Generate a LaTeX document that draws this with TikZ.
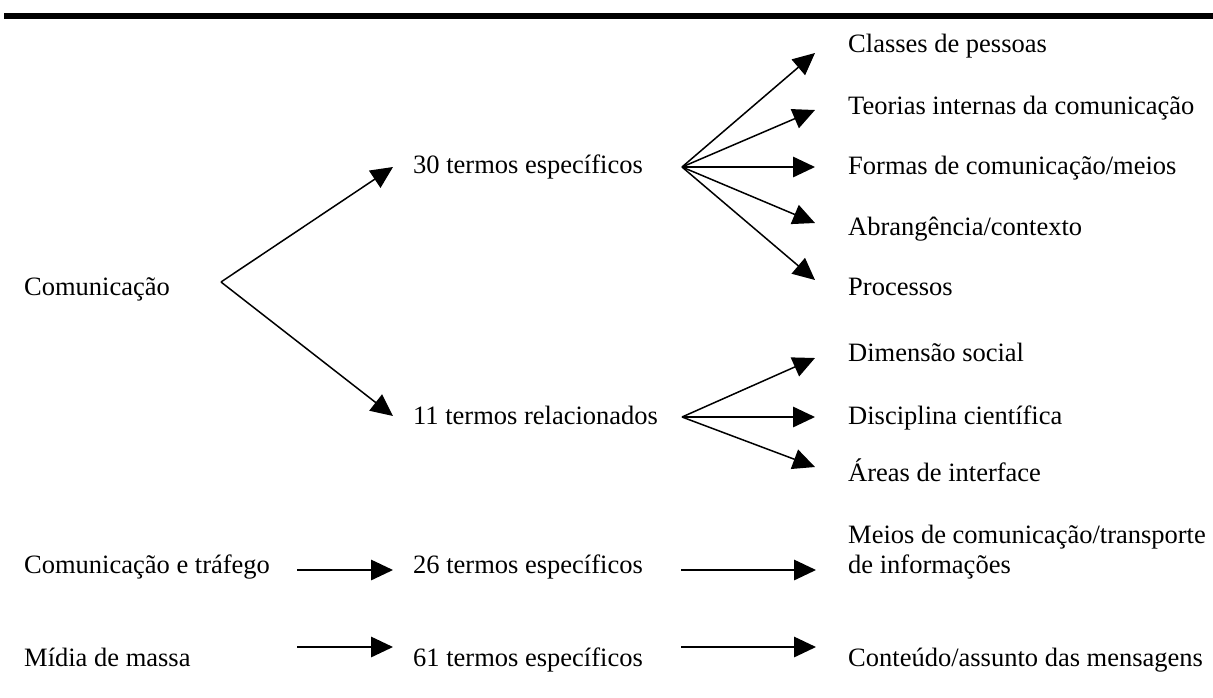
\documentclass[tikz,border=0pt]{standalone}
\usepackage{fontspec}
\setmainfont{Liberation Serif}
\usetikzlibrary{arrows.meta}
\begin{document}
\begin{tikzpicture}[x=1pt,y=-1pt,
  lbl/.style={anchor=base west, inner sep=0pt, font=\fontsize{26.5}{30.5}\selectfont},
  arr/.style={line width=1.5pt, -{Triangle[length=22pt,width=20.5pt]}}]
\useasboundingbox (0,0) rectangle (1213,697);
\fill[black] (4,12.5) rectangle (1213,19);
% left column
\node[lbl] (com) at (24,295) {Comunicação};
\node[lbl] (comt) at (24,573) {Comunicação e tráfego};
\node[lbl] (midia) at (24,666) {Mídia de massa};
% middle column
\node[lbl] (t30) at (413,173) {30 termos específicos};
\node[lbl] (t11) at (413,424) {11 termos relacionados};
\node[lbl] (t26) at (413,573) {26 termos específicos};
\node[lbl] (t61) at (413,666) {61 termos específicos};
% right column
\node[lbl] (r1) at (848,52) {Classes de pessoas};
\node[lbl] (r2) at (848,114) {Teorias internas da comunicação};
\node[lbl] (r3) at (848,174) {Formas de comunicação/meios};
\node[lbl] (r4) at (848,235) {Abrangência/contexto};
\node[lbl] (r5) at (848,295) {Processos};
\node[lbl] (s1) at (848,361) {Dimensão social};
\node[lbl] (s2) at (848,424) {Disciplina científica};
\node[lbl] (s3) at (848,481) {Áreas de interface};
\node[lbl] (m1) at (848,543) {Meios de comunicação/transporte};
\node[lbl] (m2) at (848,573) {de informações};
\node[lbl] (c1) at (848,666) {Conteúdo/assunto das mensagens};
% connector points
\coordinate (o0) at (221,282);
\coordinate (a30) at (393,167);
\coordinate (a11) at (393,416);
\coordinate (o1) at (682,167);
\coordinate (b1) at (815,53);
\coordinate (b2) at (815,110);
\coordinate (b3) at (815,167);
\coordinate (b4) at (815,223);
\coordinate (b5) at (815,280);
\coordinate (o2) at (682,417);
\coordinate (d1) at (815,358);
\coordinate (d2) at (815,417);
\coordinate (d3) at (815,467);
\coordinate (e1s) at (297,570);
\coordinate (e1e) at (393,570);
\coordinate (e2s) at (681,570);
\coordinate (e2e) at (816,570);
\coordinate (g1s) at (297,647);
\coordinate (g1e) at (393,647);
\coordinate (g2s) at (681,647);
\coordinate (g2e) at (816,647);
% arrows
\draw[arr] (o0) -- (a30);
\draw[arr] (o0) -- (a11);
\foreach \t in {b1,b2,b3,b4,b5} \draw[arr] (o1) -- (\t);
\foreach \t in {d1,d2,d3} \draw[arr] (o2) -- (\t);
\draw[arr] (e1s) -- (e1e);
\draw[arr] (e2s) -- (e2e);
\draw[arr] (g1s) -- (g1e);
\draw[arr] (g2s) -- (g2e);
\end{tikzpicture}
\end{document}
